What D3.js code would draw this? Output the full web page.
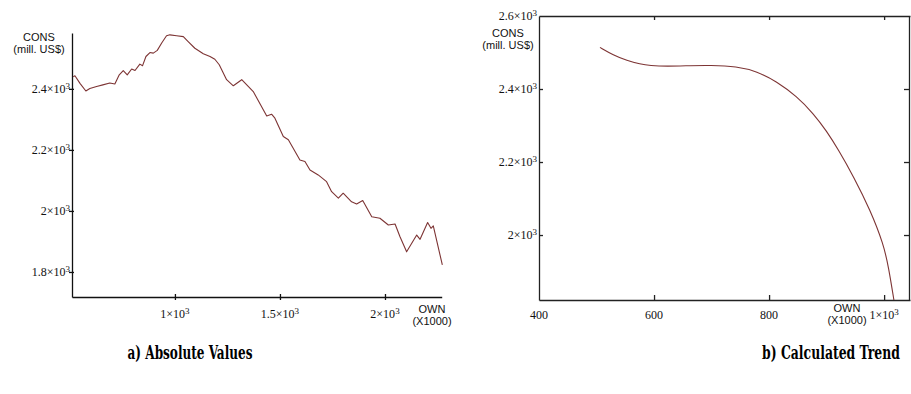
<!DOCTYPE html>
<html>
<head>
<meta charset="utf-8">
<script src="https://cdn.jsdelivr.net/npm/d3@7"></script>
<style>
  body { margin: 0; background: #fff; }
  svg { display: block; }
  .tick text { display: none; }
</style>
</head>
<body>
<svg id="chart" width="911" height="394"></svg>
<script>
// a) absolute values: OWN (x1000) vs CONS (mill. US$)
var ownAbs = [516, 524, 548, 576, 595, 627, 657, 690, 714, 735, 754, 773, 794, 810, 833, 846,
  862, 881, 897, 916, 937, 960, 976, 1008, 1040, 1063, 1095, 1135, 1167, 1190, 1211, 1246,
  1278, 1318, 1373, 1437, 1460, 1476, 1516, 1540, 1595, 1619, 1643, 1682, 1722, 1746, 1778,
  1801, 1841, 1865, 1894, 1937, 1976, 2016, 2048, 2071, 2103, 2151, 2167, 2203, 2219, 2230, 2273];
var consAbs = [2440, 2443, 2418, 2393, 2401, 2408, 2413, 2419, 2416, 2446, 2460, 2446, 2465, 2460, 2481, 2476,
  2506, 2519, 2517, 2526, 2550, 2574, 2577, 2574, 2571, 2555, 2533, 2515, 2506, 2497, 2479, 2430,
  2410, 2430, 2391, 2311, 2317, 2304, 2244, 2233, 2167, 2162, 2134, 2118, 2096, 2063, 2042,
  2058, 2030, 2023, 2034, 1981, 1976, 1954, 1957, 1916, 1866, 1921, 1907, 1962, 1943, 1951, 1823];

// b) calculated trend
var ownTrend = [506, 529, 553, 576, 593, 622, 663, 697, 744, 779, 813, 848, 877, 900, 920, 947, 976, 999, 1008, 1017];
var consTrend = [2514, 2493, 2478, 2468, 2464, 2462, 2464, 2465, 2462, 2448, 2421, 2380, 2333, 2285, 2235, 2160, 2068, 1975, 1910, 1822];

var xTicksA = [1000, 1500, 2000];
var yTicksA = [1800, 2000, 2200, 2400];
var xTicksB = [400, 600, 800, 1000];
var yTicksB = [2000, 2200, 2400, 2600];
var titles = ["a) Absolute Values", "b) Calculated Trend"];

var svg = d3.select("#chart");
var lineColor = "#7d3434";
var tickFont = "'Liberation Serif', 'DejaVu Serif', 'Times New Roman', serif";
var labFont = "'Liberation Sans', Arial, sans-serif";

// label like 2.4x10^3 with a real superscript
function sciLabel(sel, v) {
  if (v >= 1000) {
    var m = v / 1000;
    sel.text(d3.format("~g")(m) + "\u00d710");
    sel.append("tspan").attr("dy", "-0.45em").attr("font-size", "9px").text("3");
  } else {
    sel.text(v);
  }
}

function tickLabels(g, ticks, pos, horizontal, anchor, off) {
  ticks.forEach(function(v) {
    var t = g.append("text")
      .attr("font-family", tickFont)
      .attr("font-size", "12px")
      .attr("fill", "#111")
      .attr("text-anchor", anchor);
    if (horizontal) {
      t.attr("x", pos(v)).attr("y", off);
    } else {
      t.attr("x", off).attr("y", pos(v) + 4);
    }
    sciLabel(t, v);
  });
}

function axisLabel(g, x, y, lines) {
  lines.forEach(function(s, i) {
    g.append("text")
      .attr("x", x).attr("y", y + i * 11.5)
      .attr("text-anchor", "middle")
      .attr("font-family", labFont)
      .attr("font-size", "11px")
      .attr("fill", "#111")
      .text(s);
  });
}

// ---------- chart a ----------
var xa = d3.scaleLinear().domain([510, 2270]).range([72, 441.7]);
var ya = d3.scaleLinear().domain([1718, 2583]).range([297, 33]);
var ga = svg.append("g");

ga.append("g")
  .attr("transform", "translate(0,297)")
  .call(d3.axisBottom(xa).tickValues(xTicksA).tickSizeOuter(0).tickSizeInner(3))
  .call(function(g) {
    g.selectAll(".tick line").attr("y1", -3).attr("y2", 3);
  });
ga.append("g")
  .attr("transform", "translate(72,0)")
  .call(d3.axisLeft(ya).tickValues(yTicksA).tickSizeOuter(0).tickSizeInner(3))
  .call(function(g) {
    g.selectAll(".tick line").attr("x1", -3).attr("x2", 2);
  });
ga.selectAll(".domain, .tick line").attr("stroke", "#111").attr("stroke-width", 1.3);

ga.append("path")
  .datum(d3.zip(ownAbs, consAbs))
  .attr("fill", "none")
  .attr("stroke", lineColor)
  .attr("stroke-width", 1.1)
  .attr("stroke-linejoin", "round")
  .attr("d", d3.line().x(function(d) { return xa(d[0]); }).y(function(d) { return ya(d[1]); }));

tickLabels(ga, xTicksA, xa, true, "middle", 318);
tickLabels(ga, yTicksA, ya, false, "end", 70);
axisLabel(ga, 39, 41, ["CONS", "(mill. US$)"]);
axisLabel(ga, 432, 313, ["OWN", "(X1000)"]);

// ---------- chart b ----------
var xb = d3.scaleLinear().domain([400, 1045]).range([539, 910]);
var yb = d3.scaleLinear().domain([1822, 2600]).range([300, 16]);
var gb = svg.append("g");

gb.append("g")
  .attr("transform", "translate(0,300)")
  .call(d3.axisTop(xb).tickValues(xTicksB.slice(1)).tickSizeOuter(0).tickSizeInner(5));
gb.append("g")
  .attr("transform", "translate(0,16)")
  .call(d3.axisBottom(xb).tickValues(xTicksB.slice(1)).tickSizeOuter(0).tickSizeInner(4));
gb.append("g")
  .attr("transform", "translate(539,0)")
  .call(d3.axisRight(yb).tickValues(yTicksB.slice(0, 3)).tickSizeOuter(0).tickSizeInner(4));
gb.append("g")
  .attr("transform", "translate(909,0)")
  .call(d3.axisLeft(yb).tickValues(yTicksB.slice(0, 3)).tickSizeOuter(0).tickSizeInner(5));
gb.selectAll(".domain, .tick line").attr("stroke", "#222").attr("stroke-width", 1.3);

gb.append("path")
  .datum(d3.zip(ownTrend, consTrend))
  .attr("fill", "none")
  .attr("stroke", lineColor)
  .attr("stroke-width", 1.1)
  .attr("d", d3.line().curve(d3.curveBasis)
    .x(function(d) { return xb(d[0]); }).y(function(d) { return yb(d[1]); }));

tickLabels(gb, xTicksB, xb, true, "middle", 319);
tickLabels(gb, yTicksB, yb, false, "end", 537);
axisLabel(gb, 508, 37, ["CONS", "(mill. US$)"]);
axisLabel(gb, 847, 312, ["OWN", "(X1000)"]);

// ---------- captions ----------
// squeeze the bold captions horizontally to the reference width
var capX = [190, 831], capW = [125, 138];
titles.forEach(function(s, i) {
  var t = svg.append("text")
    .attr("text-anchor", "middle")
    .attr("font-family", "'DejaVu Serif Condensed', 'Liberation Serif', serif")
    .attr("font-weight", "bold")
    .attr("font-size", "19px")
    .attr("fill", "#000")
    .text(s);
  var sx = capW[i] / t.node().getComputedTextLength();
  t.attr("transform", "translate(" + capX[i] + ",359) scale(" + sx + ",1)");
});
</script>
</body>
</html>
